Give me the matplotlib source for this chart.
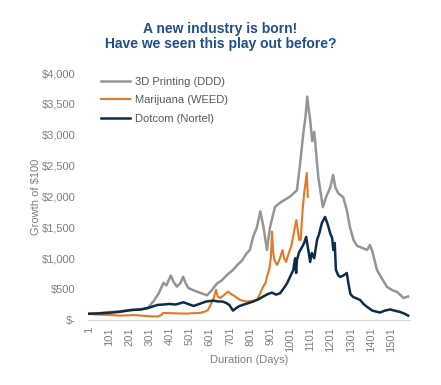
import matplotlib.pyplot as plt
from matplotlib.ticker import FuncFormatter

plt.rcParams['font.family'] = ['Liberation Sans', 'DejaVu Sans']

# --- Data (day, growth of $100) ---
ddd_days = [1, 50, 100, 150, 200, 250, 290, 320, 345, 370, 385, 407, 420, 437, 455, 468,
            480, 493, 520, 552, 587, 610, 636, 660, 690, 716, 740, 760, 785, 800, 816, 835,
            852, 868, 885, 900, 925, 950, 975, 1000, 1020, 1034, 1050, 1066, 1077, 1085,
            1093, 1100, 1110, 1120, 1130, 1140, 1163, 1180, 1200, 1214, 1225, 1240, 1264,
            1282, 1298, 1315, 1333, 1350, 1383, 1397, 1410, 1432, 1455, 1482, 1510, 1532,
            1550, 1564, 1587]
ddd_vals = [100, 110, 125, 140, 160, 175, 185, 300, 420, 600, 560, 720, 620, 540, 600, 700,
            600, 520, 480, 440, 400, 480, 590, 640, 740, 810, 900, 960, 1085, 1134, 1345, 1500,
            1760, 1500, 1134, 1500, 1830, 1900, 1950, 2000, 2060, 2100, 2540, 3030, 3300, 3620,
            3400, 3240, 2900, 3050, 2700, 2320, 1830, 2000, 2150, 2350, 2150, 2050, 1990,
            1780, 1500, 1300, 1200, 1180, 1134, 1215, 1100, 810, 680, 535, 480, 454,
            400, 356, 380]

weed_days = [1, 30, 60, 105, 150, 200, 220, 260, 300, 340, 360, 369, 400, 450, 488, 520,
             552, 580, 592, 605, 617, 632, 640, 652, 670, 692, 705, 716, 735, 751, 786, 810,
             835, 850, 866, 878, 885, 898, 905, 910, 916, 922, 935, 950, 962, 970, 980, 995,
             1005, 1015, 1031, 1045, 1053, 1061, 1070, 1083, 1088]
weed_vals = [100, 90, 85, 80, 70, 75, 80, 70, 60, 55, 80, 113, 110, 105, 103, 110,
             113, 140, 162, 250, 324, 486, 380, 356, 400, 460, 420, 405, 360, 324, 297, 310,
             324, 420, 540, 600, 700, 850, 1025, 1430, 1100, 972, 891, 1000, 1134, 1000, 940, 1100,
             1183, 1350, 1620, 1300, 1296, 1733, 2057, 2380, 1993]

nt_days = [1, 50, 105, 150, 200, 220, 260, 300, 340, 370, 400, 430, 470, 500, 520, 550,
           580, 617, 640, 666, 685, 698, 716, 735, 750, 780, 816, 840, 866, 890, 910, 930,
           950, 970, 985, 1000, 1016, 1025, 1030, 1034, 1045, 1060, 1070, 1080, 1088, 1100,
           1108, 1120, 1134, 1145, 1158, 1174, 1185, 1200, 1209, 1215, 1222, 1228, 1240, 1249,
           1265, 1282, 1290, 1300, 1313, 1330, 1348, 1365, 1383, 1410, 1447, 1470, 1497, 1520,
           1547, 1570, 1587]
nt_vals = [100, 105, 118, 130, 155, 162, 170, 200, 243, 250, 259, 250, 286, 250, 227, 260,
           297, 313, 300, 297, 270, 243, 151, 200, 227, 260, 297, 330, 378, 420, 443, 410,
           432, 520, 594, 700, 810, 1000, 760, 972, 1100, 1183, 1250, 1345, 1183, 940,
           1085, 1000, 1296, 1400, 1571, 1669, 1571, 1400, 1328, 1134, 1247, 810, 720, 697,
           720, 761, 594, 420, 373, 350, 324, 260, 211, 150, 120, 150, 170, 150,
           130, 100, 70]

tick_days = list(range(1, 1502, 100))

# --- Plot ---
fig = plt.figure(figsize=(4.41, 3.85), dpi=100)
ax = fig.add_axes([0.2, 0.169, 0.73, 0.641])

ax.plot(ddd_days, ddd_vals, color='#939598', lw=1.8, label='3D Printing (DDD)')
ax.plot(weed_days, weed_vals, color='#E87722', lw=1.5, label='Marijuana (WEED)')
ax.plot(nt_days, nt_vals, color='#0B2D4D', lw=1.8, label='Dotcom (Nortel)')

ax.set_xlim(-4, 1597)
ax.set_ylim(0, 4000)
ax.set_xticks(tick_days)
ax.set_xticklabels([str(d) for d in tick_days], rotation=90)
ax.set_yticks(range(0, 4001, 500))
ax.yaxis.set_major_formatter(FuncFormatter(lambda v, p: '$-' if v == 0 else f'${v:,.0f}'))
ax.tick_params(length=0, labelsize=8, colors='#7F7F7F', pad=5)
ax.tick_params(axis='y', pad=9)

for s in ['top', 'right', 'left']:
    ax.spines[s].set_visible(False)
ax.spines['bottom'].set_color('#D9D9D9')

ax.set_xlabel('Duration (Days)', fontsize=8, color='#7F7F7F', labelpad=2)
ax.set_ylabel('Growth of $100', fontsize=8, color='#7F7F7F', labelpad=1)

leg = ax.legend(loc='upper left', frameon=False, fontsize=8, handlelength=2.6,
                handletextpad=0.45, labelspacing=0.75, borderaxespad=0,
                bbox_to_anchor=(0.025, 1.003))
for t in leg.get_texts():
    t.set_color('#595959')

fig.text(0.5, 0.905, 'A new industry is born!\nHave we seen this play out before?',
         ha='center', va='center', fontsize=10, fontweight='bold', color='#1F4E8C',
         linespacing=1.15)

plt.savefig('out.png', dpi=100)
